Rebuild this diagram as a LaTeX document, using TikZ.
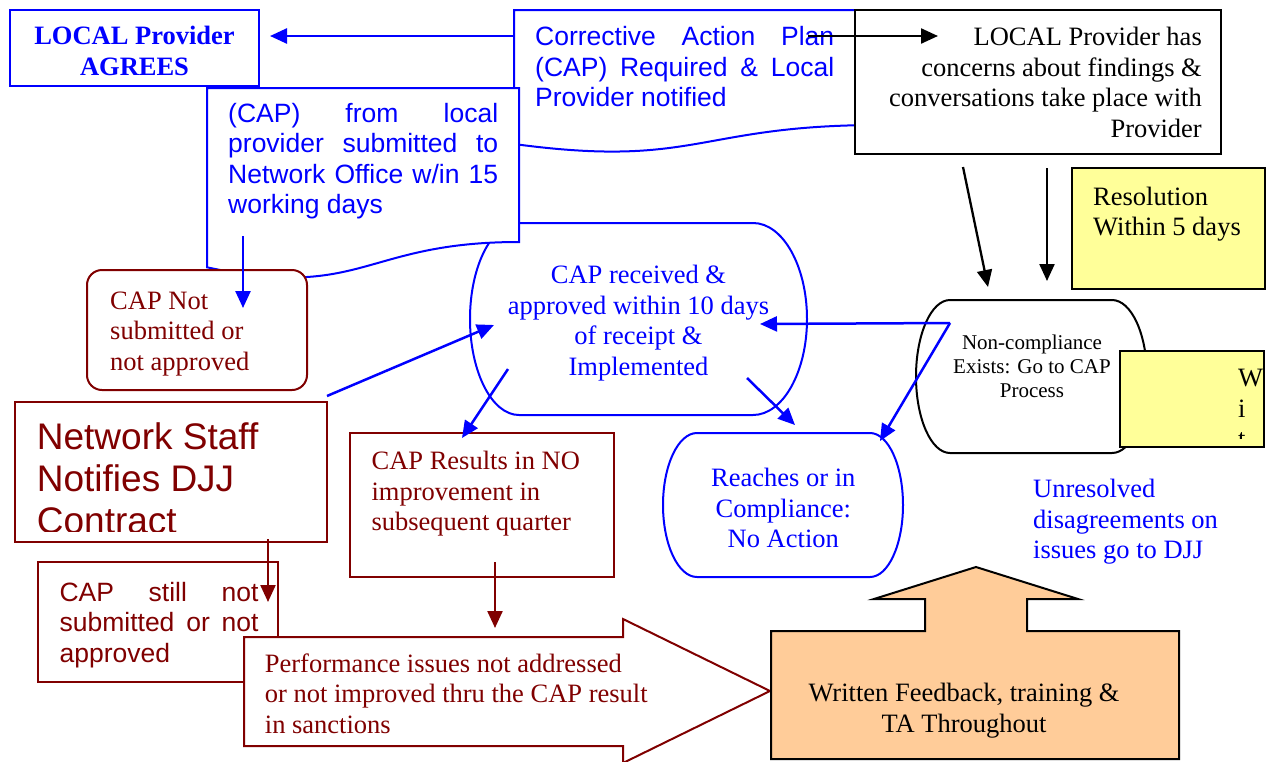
\documentclass[tikz,border=0pt]{standalone}
\usepackage{fontspec}
\setmainfont{Liberation Serif}
\newfontfamily\arialf{Liberation Sans}
\usetikzlibrary{arrows.meta}
\definecolor{cblue}{RGB}{0,0,255}
\definecolor{dred}{RGB}{128,0,0}
\definecolor{lyellow}{RGB}{255,255,153}
\definecolor{lorange}{RGB}{255,204,153}
\begin{document}
\begin{tikzpicture}[x=1pt,y=-1pt,
  bl/.style={draw=cblue,line width=2pt,fill=white},
  rd/.style={draw=dred,line width=2pt,fill=white},
  bk/.style={draw=black,line width=2pt,fill=white},
  arrB/.style={cblue,line width=2.5pt,-{Triangle[length=17pt,width=15pt]}},
  arrK/.style={black,line width=2.3pt,-{Triangle[length=17pt,width=15pt]}},
  arrR/.style={dred,line width=2.3pt,-{Triangle[length=17pt,width=15pt]}},
  tm/.style={inner sep=0pt,font=\fontsize{26.5}{30.5}\selectfont},
  ar/.style={inner sep=0pt,font=\arialf\fontsize{26.5}{30.5}\selectfont},
]
\useasboundingbox (0,0) rectangle (1267,761);
\fill[white] (0,0) rectangle (1267,761);

% Corrective Action Plan document shape
\draw[bl] (514,10) -- (880,10) -- (880,125) .. controls (697,125) and (697,168.7) .. (514,144) -- cycle;
% black box
\draw[bk] (855,10) rectangle (1221,154);
% CAP received shape
\draw[bl] (519,223) -- (753,223) arc[start angle=90,end angle=-90,x radius=54pt,y radius=96pt]
  -- (519,415) arc[start angle=270,end angle=90,x radius=49pt,y radius=96pt] -- cycle;
% (CAP) from local document shape
\draw[bl] (207,88) -- (519,88) -- (519,242) .. controls (363,242) and (363,300.5) .. (207,267.3) -- cycle;
% AGREES box
\draw[bl] (10,10) rectangle (259,86);
% CAP Not box
\draw[rd,rounded corners=15pt] (87,270) rectangle (307,390);
% Network staff box
\draw[rd] (15,402) rectangle (327,542);
% CAP still box
\draw[rd] (38,562) rectangle (278,682);
% CAP Results box
\draw[rd] (350,433) rectangle (614,577);
% Big red arrow
\draw[rd,line join=miter] (244,637) -- (623,637) -- (623,619) -- (770,691) -- (623,763) -- (623,746) -- (244,746) -- cycle;
% Orange up arrow
\draw[black,line width=2pt,fill=lorange] (771,631) -- (925,631) -- (925,599) -- (874,599) -- (976,567) -- (1078,599) -- (1027,599) -- (1027,631) -- (1179,631) -- (1179,759) -- (771,759) -- cycle;
% Non-compliance shape
\draw[bk] (950,300) -- (1112,300) arc[start angle=90,end angle=-90,x radius=35pt,y radius=76.5pt]
  -- (950,453) arc[start angle=270,end angle=90,x radius=34pt,y radius=76.5pt] -- cycle;
% Reaches shape
\draw[bl] (697,433) -- (870,433) arc[start angle=90,end angle=-90,x radius=33pt,y radius=72pt]
  -- (697,577) arc[start angle=270,end angle=90,x radius=34pt,y radius=72pt] -- cycle;
% Yellow boxes
\draw[black,line width=2pt,fill=lyellow] (1072,168) rectangle (1265,289);
\draw[black,line width=2pt,fill=lyellow] (1120,351) rectangle (1264,447);

% Texts
\node[tm,cblue,anchor=north,align=center,font=\bfseries\fontsize{26.5}{30.5}\selectfont] (agree) at (134.5,26.2) {LOCAL Provider\\AGREES};
\node[ar,cblue,anchor=north west,align=left] (corr) at (535,26.5)
  {\makebox[299pt][s]{Corrective Action Plan}\\\makebox[299pt][s]{(CAP) Required \& Local}\\Provider notified};
\node[tm,anchor=north east,align=right] (concern) at (1202,27)
  {LOCAL Provider has\\concerns about findings \&\\conversations take place with\\Provider};
\node[ar,cblue,anchor=north west,align=left] (local) at (228,103)
  {\makebox[270pt][s]{(CAP) from local}\\\makebox[270pt][s]{provider submitted to}\\\makebox[270pt][s]{Network Office w/in 15}\\working days};
\node[tm,anchor=north west,align=left] (resol) at (1093,186.5) {Resolution\\Within 5 days};
\node[tm,cblue,anchor=north,align=center] (recv) at (638.5,265)
  {CAP received \&\\approved within 10 days\\of receipt \&\\Implemented};
\node[inner sep=0pt,anchor=north,align=center,font=\fontsize{21}{24}\selectfont] (noncomp) at (1032,335)
  {Non-compliance\\Exists: Go to CAP\\Process};
\begin{scope}
  \clip (1121,352) rectangle (1263,438);
  \node[tm,anchor=north west,align=left] (wi) at (1238,369) {W\\i\\t};
\end{scope}
\node[tm,cblue,anchor=north west,align=left] (unres) at (1033,479)
  {Unresolved\\disagreements on\\issues go to DJJ};
\node[tm,cblue,anchor=north,align=center] (reach) at (783.3,468)
  {Reaches or in\\Compliance:\\No Action};
\node[tm,dred,anchor=north west,align=left] (capnot) at (110,291.7)
  {CAP Not\\submitted or\\not approved};
\begin{scope}
  \clip (16,403) rectangle (326,531);
  \node[inner sep=0pt,dred,anchor=north west,align=left,font=\arialf\fontsize{37}{42}\selectfont] (netstaff) at (36.7,422.7)
    {Network Staff\\Notifies DJJ\\Contract};
\end{scope}
\node[ar,dred,anchor=north west,align=left] (capstill) at (59.4,581.7)
  {\makebox[199pt][s]{CAP still not}\\\makebox[199pt][s]{submitted or not}\\approved};
\node[tm,dred,anchor=north west,align=left] (capres) at (371.4,451)
  {CAP Results in NO\\improvement in\\subsequent quarter};
\node[tm,dred,anchor=north west,align=left] (perf) at (264.7,653.3)
  {Performance issues not addressed\\or not improved thru the CAP result\\in sanctions};
\node[tm,anchor=north,align=center] (written) at (964,683)
  {Written Feedback, training \&\\TA Throughout};

% connector end points
\coordinate (corrL) at (513,36);
\coordinate (agreeR) at (270,36);
\coordinate (corrIn) at (808,36);
\coordinate (concernL) at (938,36);
\coordinate (concernB1) at (963,167);
\coordinate (ncTop1) at (988,287);
\coordinate (concernB2) at (1047,168);
\coordinate (ncTop2) at (1047,281);
\coordinate (ncIn) at (950,323);
\coordinate (recvR) at (760,324);
\coordinate (reachTR) at (880,441);
\coordinate (nsTR) at (327,396);
\coordinate (recvL) at (494,325);
\coordinate (recvBL) at (508,369);
\coordinate (capresT) at (462,438);
\coordinate (recvBR) at (747,378);
\coordinate (reachT) at (795,425);
\coordinate (localB) at (243,236);
\coordinate (capnotIn) at (243,308);
\coordinate (nsB) at (268,539);
\coordinate (capstillIn) at (268,602);
\coordinate (capresB) at (495,562);
\coordinate (perfT) at (495,628);

% connectors
\draw[arrB] (corrL) -- (agreeR);
\draw[arrK] (corrIn) -- (concernL);
\draw[arrK] (concernB1) -- (ncTop1);
\draw[arrK] (concernB2) -- (ncTop2);
\draw[arrB] (ncIn) -- (recvR);
\draw[arrB] (ncIn) -- (reachTR);
\draw[arrB] (nsTR) -- (recvL);
\draw[arrB] (recvBL) -- (capresT);
\draw[arrB] (recvBR) -- (reachT);
\draw[arrB] (localB) -- (capnotIn);
\draw[arrR] (nsB) -- (capstillIn);
\draw[arrR] (capresB) -- (perfT);
\end{tikzpicture}
\end{document}
